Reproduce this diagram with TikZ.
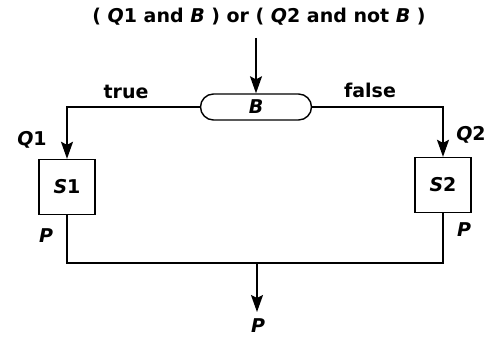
\documentclass[tikz,border=0pt]{standalone}
\usepackage{fontspec}
\setmainfont{DejaVu Sans}
\usetikzlibrary{shapes.misc,arrows.meta}
\begin{document}
\begin{tikzpicture}[x=1pt,y=1pt,
  every node/.style={font=\fontsize{19}{22}\selectfont\bfseries},
  conn/.style={line width=1.4pt},
  arr/.style={conn,-{Stealth[length=17pt,width=12pt,inset=3pt]}},
  cond/.style={draw,line width=1.4pt,rounded rectangle,minimum width=111pt,minimum height=26pt,inner sep=0pt},
  stmt/.style={draw,line width=1.4pt,minimum width=56pt,minimum height=55pt,inner sep=0pt},
  lab/.style={inner sep=0pt}]
\useasboundingbox (0,0) rectangle (488,338);
\node[lab] (top) at (259,321) {( \textit{Q}1 and \textit{B} ) or ( \textit{Q}2 and not \textit{B} )};
\coordinate (topin) at (256,300);
\node[cond] (B) at (256,231) {\textit{B}};
\node[stmt] (S1) at (67,151) {\textit{S}1};
\node[stmt] (S2) at (443,153) {\textit{S}2};
\coordinate (lc) at (67,231);
\coordinate (rc) at (443,231);
\coordinate (bl) at (67,75);
\coordinate (br) at (443,75);
\coordinate (bm) at (257,75);
\coordinate (out) at (257,26);
\draw[arr] (topin) -- (B.north);
\draw[arr] (B.west) -- (lc) -- (S1.north);
\draw[arr] (B.east) -- (rc) -- (S2.north);
\draw[conn] (S1.south) -- (bl) -- (br) -- (S2.south);
\draw[arr] (bm) -- (out);
\node[lab] (tlab) at (126,246) {true};
\node[lab] (flab) at (370,248) {false};
\node[lab] (q1) at (32,198) {\textit{Q}1};
\node[lab] (q2) at (471,203) {\textit{Q}2};
\node[lab] (p1) at (46,102) {\textit{P}};
\node[lab] (p2) at (464,108) {\textit{P}};
\node[lab] (p3) at (258,12) {\textit{P}};
\end{tikzpicture}
\end{document}
